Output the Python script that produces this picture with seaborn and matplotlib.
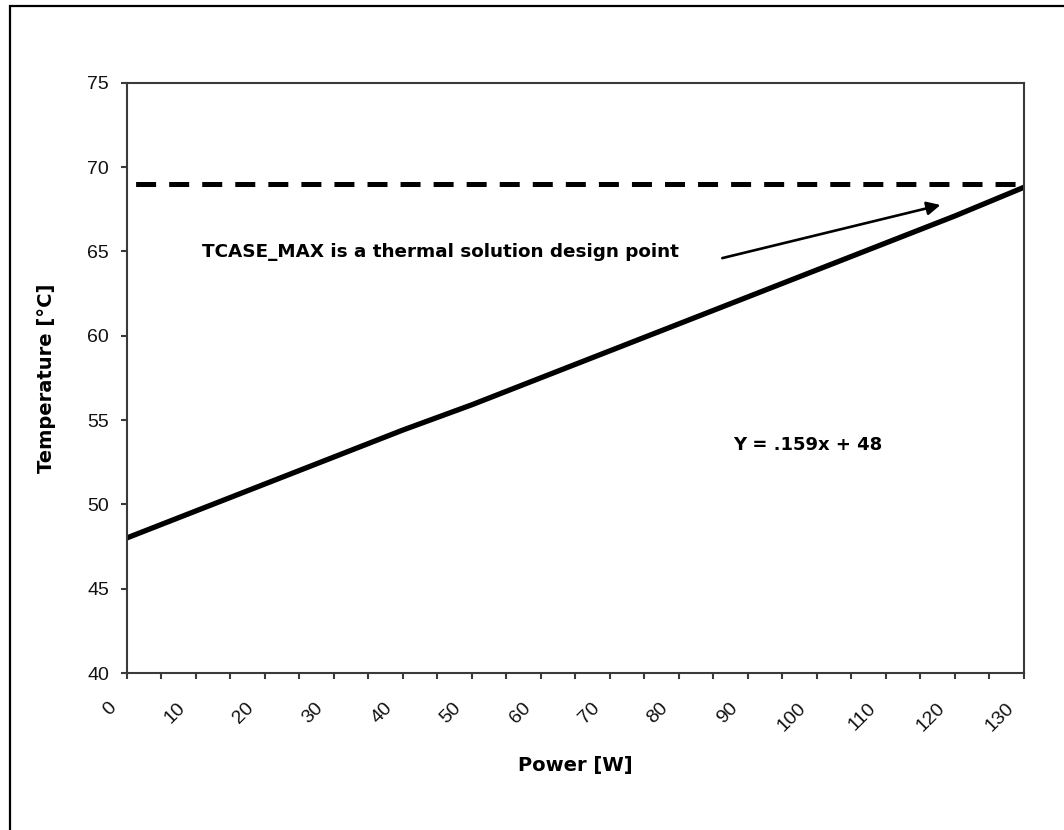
import matplotlib
matplotlib.use("Agg")
import matplotlib.pyplot as plt
import matplotlib.transforms as mtransforms
from matplotlib.patches import Rectangle
from matplotlib.ticker import MultipleLocator
import seaborn as sns
import pandas as pd

# Case temperature vs. dissipated power
power_w = [0, 10, 20, 30, 40, 50, 60, 70, 80, 90, 100, 110, 120, 130]
temp_c = [48.0, 49.6, 51.2, 52.8, 54.4, 55.9, 57.5, 59.1, 60.7, 62.3, 63.9, 65.5, 67.1, 68.8]

# Design limit
tcase_max = 69.0
limit_x = [0, 130]

x_ticks = [0, 10, 20, 30, 40, 50, 60, 70, 80, 90, 100, 110, 120, 130]
y_ticks = [40, 45, 50, 55, 60, 65, 70, 75]

note_text = "TCASE_MAX is a thermal solution design point"
fit_text = "Y = .159x + 48"

sns.set_style("white")
plt.rcParams["font.family"] = ["Liberation Sans", "DejaVu Sans"]
plt.rcParams["lines.scale_dashes"] = False
plt.rcParams["text.color"] = "black"
plt.rcParams["axes.labelcolor"] = "black"

fig = plt.figure(figsize=(10.64, 8.3), dpi=100)
W, H = 1064, 830
ax = fig.add_axes([126.5 / W, 1 - 673 / H, (1024 - 126.5) / W, (673 - 82.7) / H])

curve = pd.DataFrame({"power": power_w, "temp": temp_c})
limit = pd.DataFrame({"power": limit_x, "temp": [tcase_max] * len(limit_x)})

sns.lineplot(data=curve, x="power", y="temp", ax=ax, color="black",
             linewidth=3.8, solid_capstyle="butt")
sns.lineplot(data=limit, x="power", y="temp", ax=ax, color="black",
             linewidth=3.6, linestyle=(17.6, (14.4, 9.4)), dash_capstyle="butt")

ax.set_xlim(0, 130)
ax.set_ylim(40, 75)
ax.set_xticks(x_ticks)
ax.set_yticks(y_ticks)
ax.xaxis.set_minor_locator(MultipleLocator(5))

spine_col = "#3a3a3a"
for s in ax.spines.values():
    s.set_visible(True)
    s.set_color(spine_col)
    s.set_linewidth(1.5)

ax.tick_params(axis="both", which="both", direction="out", length=4.5,
               width=1.5, color=spine_col, labelsize=14, labelcolor="#111111")
ax.tick_params(axis="y", which="major", left=True, pad=8)
ax.tick_params(axis="x", which="both", bottom=True)
ax.tick_params(axis="x", which="major", pad=6)
ax.tick_params(axis="x", which="minor", labelbottom=False)
shift = mtransforms.ScaledTranslation(-7 / 100, -12 / 100, fig.dpi_scale_trans)
for lab in ax.get_xticklabels():
    lab.set_rotation(45)
    lab.set_ha("right")
    lab.set_va("top")
    lab.set_transform(lab.get_transform() + shift)

ax.set_xlabel("Power [W]", fontsize=14, fontweight="bold", family="DejaVu Sans")
ax.set_ylabel("Temperature [°C]", fontsize=14, fontweight="bold", family="DejaVu Sans")
ax.xaxis.set_label_coords(0.5, -0.156)
ax.yaxis.set_label_coords(-0.0886, 0.5)
ax.xaxis.label.set_va("center")
ax.yaxis.label.set_va("center")

ax.text(11.0, 64.95, note_text, fontsize=13.25, fontweight="bold",
        family="DejaVu Sans", color="black", ha="left", va="center")
ax.annotate("", xy=(117.9, 67.75), xytext=(86.3, 64.6),
            arrowprops=dict(arrowstyle="-|>", lw=1.9, color="black",
                            mutation_scale=20, shrinkA=0, shrinkB=0))
ax.text(87.9, 53.5, fit_text, fontsize=13, fontweight="bold",
        family="DejaVu Sans", color="black", ha="left", va="center")

# Outer chart-area frame (left and top edges)
fig.add_artist(Rectangle((10 / W, -0.05), 1.2, 1 - 6 / H + 0.05,
                         transform=fig.transFigure, fill=False,
                         edgecolor="black", linewidth=1.6, clip_on=False))

fig.savefig("out.png", dpi=100)
